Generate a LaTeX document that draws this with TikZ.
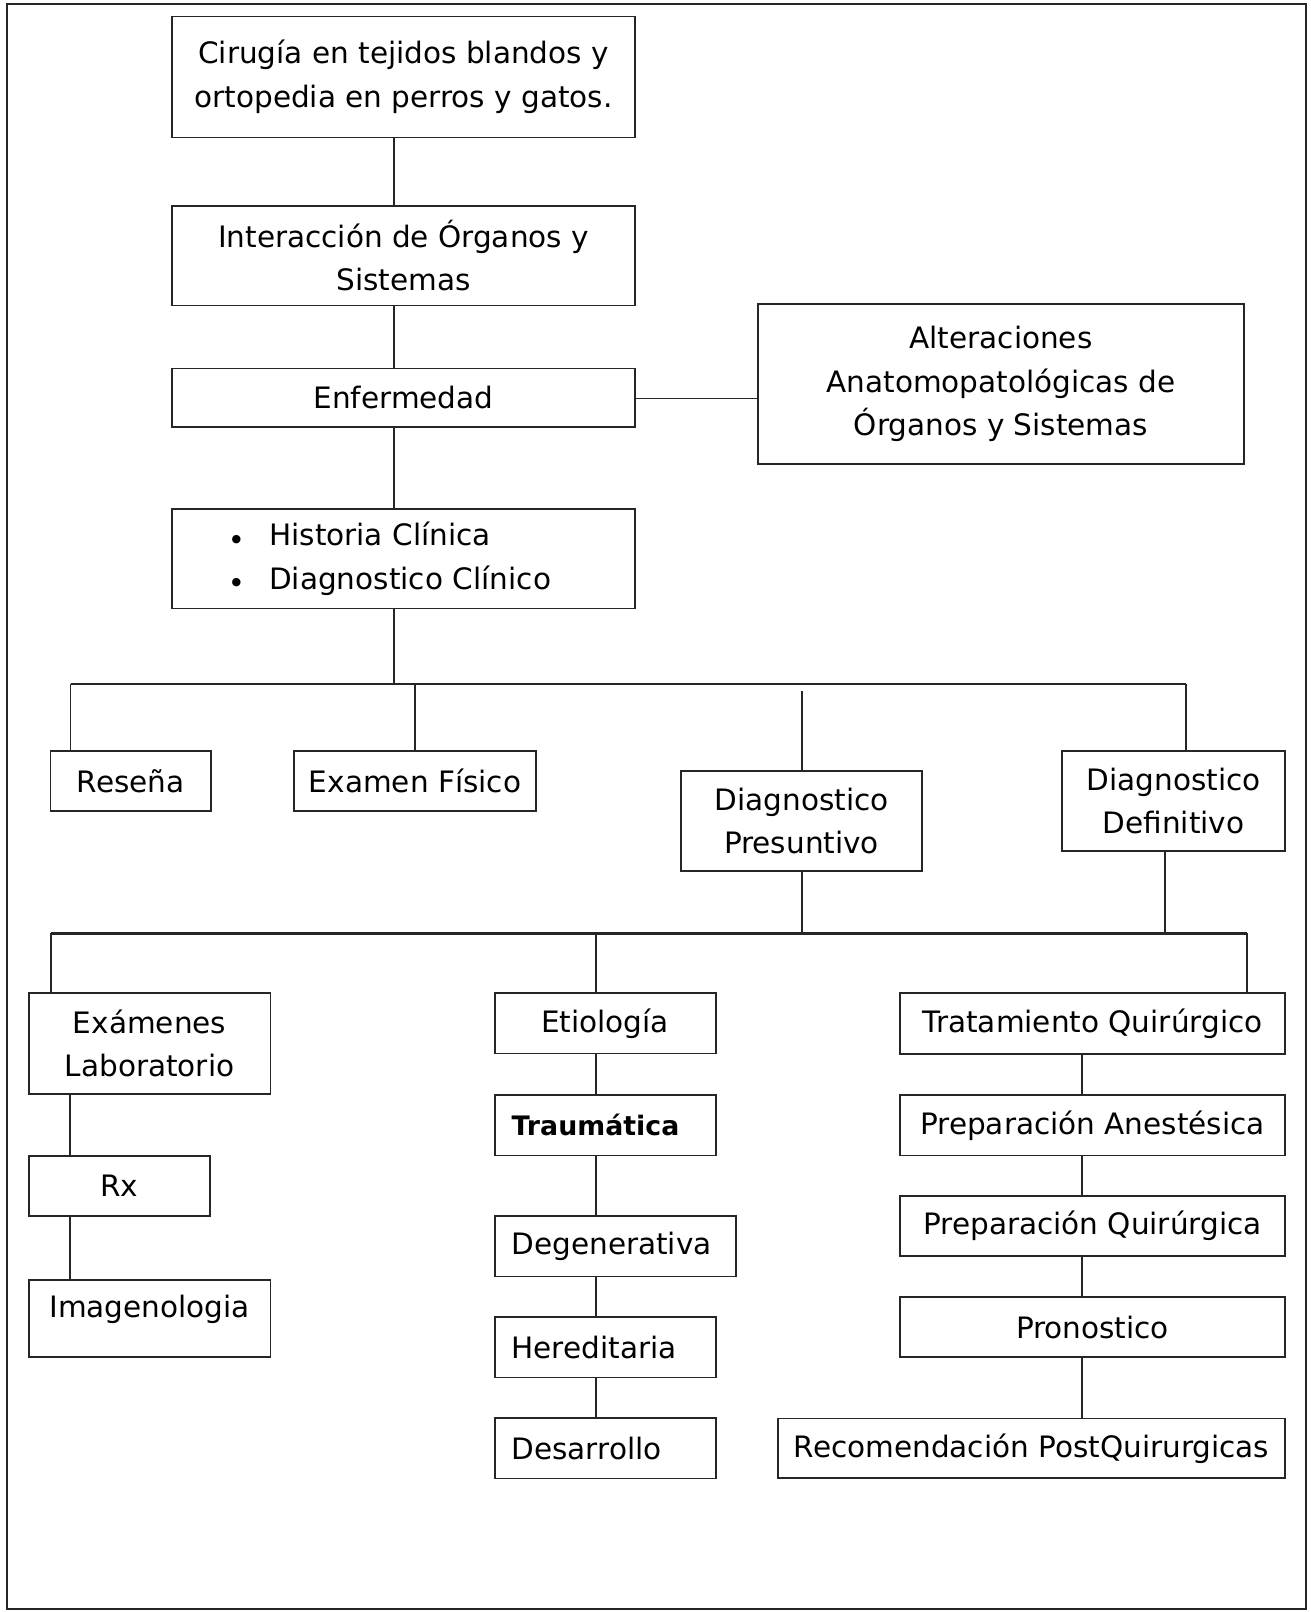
\documentclass[tikz,border=0pt]{standalone}
\usepackage{fontspec}
\setmainfont{DejaVu Sans}
\newcommand{\mybullet}{{\fontsize{11}{11}\selectfont\raisebox{3.5pt}{●}}}
\begin{document}
\begin{tikzpicture}[x=1pt,y=-1pt,
  box/.style={draw=black!85, line width=1.8pt, inner xsep=0pt, inner ysep=0pt, align=center,
    font=\fontsize{29.5}{43.5}\selectfont},
  lbox/.style={box, align=left, inner xsep=17pt},
  conn/.style={draw=black!85, line width=1.4pt},
  bus/.style={draw=black!85, line width=2.4pt}]
\useasboundingbox (0,0) rectangle (1311,1612);
\draw[line width=1.6pt, draw=black!85] (7,4) rectangle (1306,1609);

% level 0 spine
\node[box, minimum width=463.7pt, minimum height=121pt] (top) at (403.5,77)
  {Cirugía en tejidos blandos y\\ortopedia en perros y gatos.};
\node[box, minimum width=463.7pt, minimum height=99.5pt] (inter) at (403.5,255.7)
  {Interacción de Órganos y\\Sistemas};
\node[box, minimum width=463.7pt, minimum height=58.5pt] (enf) at (403.5,397.7)
  {Enfermedad};
\node[box, align=left, inner xsep=60pt, text width=343.7pt, minimum width=463.7pt, minimum height=99.5pt] (hist) at (403.5,558.7)
  {\mybullet\hspace{28pt}Historia Clínica\\
   \mybullet\hspace{28pt}Diagnostico Clínico};
\node[box, minimum width=486pt, minimum height=160pt] (alt) at (1001,384)
  {Alteraciones\\Anatomopatológicas de\\Órganos y Sistemas};

% level 1
\node[box, minimum width=160.5pt, minimum height=60pt] (res) at (130.7,781) {Reseña};
\node[box, minimum width=242pt, minimum height=60pt] (exf) at (415,781) {Examen Físico};
\node[box, minimum width=241pt, minimum height=100pt] (pres) at (801.5,821) {Diagnostico\\Presuntivo};
\node[box, minimum width=223pt, minimum height=100pt] (defi) at (1173.5,801) {Diagnostico\\Definitivo};

% level 2 left
\node[box, minimum width=241.8pt, minimum height=101pt] (lab) at (149.6,1043.5) {Exámenes\\Laboratorio};
\node[box, minimum width=181.3pt, minimum height=60pt] (rx) at (119.4,1185.6) {Rx};
\node[box, minimum width=241.8pt, minimum height=77pt, text depth=24pt] (img) at (149.6,1318.5) {Imagenologia};

% level 2 middle
\node[box, minimum width=221pt, minimum height=60.5pt] (eti) at (605.1,1023.3) {Etiología};
\node[lbox, text width=187pt, minimum height=60.5pt, font=\fontsize{26.8}{30}\selectfont\bfseries] (trau) at (605.1,1125.3) {Traumática};
\node[lbox, text width=207.4pt, minimum height=60.5pt] (deg) at (615.3,1246.3) {Degenerativa};
\node[lbox, text width=187pt, minimum height=60.5pt] (her) at (605.1,1347.3) {Hereditaria};
\node[lbox, text width=187pt, minimum height=60.5pt] (des) at (605.1,1448.3) {Desarrollo};

% level 2 right
\node[box, minimum width=385pt, minimum height=61pt] (trat) at (1092.5,1023.5) {Tratamiento Quirúrgico};
\node[box, minimum width=385pt, minimum height=60.5pt] (pane) at (1092.5,1125.3) {Preparación Anestésica};
\node[box, minimum width=385pt, minimum height=60pt] (pqui) at (1092.5,1226) {Preparación Quirúrgica};
\node[box, minimum width=385pt, minimum height=60pt] (pron) at (1092.5,1327.3) {Pronostico};
\node[box, minimum width=507pt, minimum height=59.5pt] (rec) at (1031.5,1448.3) {Recomendación PostQuirurgicas};

% helper coordinates
\coordinate (sp) at (394,0);
\coordinate (ya) at (0,398.5);
\coordinate (b1l) at (70.5,684);
\coordinate (b1r) at (1186,684);
\coordinate (xe) at (415,0);
\coordinate (gp) at (802,691);
\coordinate (xd) at (1165,0);
\coordinate (b2l) at (51,933.3);
\coordinate (b2r) at (1247,933.3);
\coordinate (xl) at (70,0);
\coordinate (xm) at (596,0);
\coordinate (xr) at (1082,0);

% spine connectors
\draw[conn] (top.south -| sp) -- (inter.north -| sp);
\draw[conn] (inter.south -| sp) -- (enf.north -| sp);
\draw[conn] (enf.south -| sp) -- (hist.north -| sp);
\draw[conn] (enf.east |- ya) -- (alt.west |- ya);

% bus 1
\draw[bus] (b1l) -- (b1r);
\draw[conn] (hist.south -| sp) -- (sp |- b1l);
\draw[conn] (b1l) -- (res.north -| b1l);
\draw[conn] (xe |- b1l) -- (exf.north -| xe);
\draw[conn] (gp) -- (pres.north -| gp);
\draw[conn] (b1r) -- (defi.north -| b1r);

% bus 2
\draw[bus] (b2l) -- (b2r);
\draw[conn] (pres.south -| gp) -- (gp |- b2l);
\draw[conn] (defi.south -| xd) -- (xd |- b2l);
\draw[conn] (b2l) -- (lab.north -| b2l);
\draw[conn] (xm |- b2l) -- (eti.north -| xm);
\draw[conn] (b2r) -- (trat.north -| b2r);

% column connectors
\draw[conn] (lab.south -| xl) -- (rx.north -| xl);
\draw[conn] (rx.south -| xl) -- (img.north -| xl);
\draw[conn] (eti.south -| xm) -- (trau.north -| xm);
\draw[conn] (trau.south -| xm) -- (deg.north -| xm);
\draw[conn] (deg.south -| xm) -- (her.north -| xm);
\draw[conn] (her.south -| xm) -- (des.north -| xm);
\draw[conn] (trat.south -| xr) -- (pane.north -| xr);
\draw[conn] (pane.south -| xr) -- (pqui.north -| xr);
\draw[conn] (pqui.south -| xr) -- (pron.north -| xr);
\draw[conn] (pron.south -| xr) -- (rec.north -| xr);
\end{tikzpicture}
\end{document}
